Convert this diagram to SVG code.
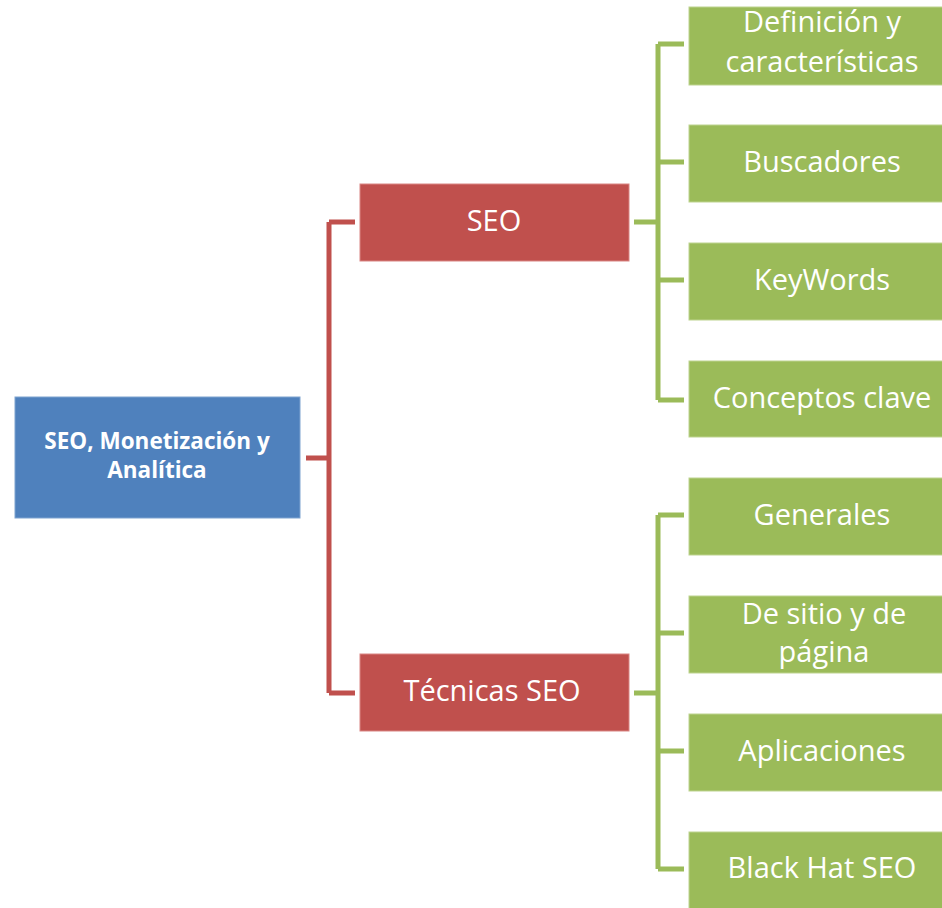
<svg xmlns="http://www.w3.org/2000/svg" width="942" height="908" viewBox="0 0 942 908">
<style>
.root{fill:#4F81BD;stroke:#7FA3D0;stroke-width:1}
.red{fill:#C0504D;stroke:#D98583;stroke-width:1}
.grn{fill:#9BBB59;stroke:#BDD38F;stroke-width:1}
text{font-family:"Open Sans","Liberation Sans",sans-serif;fill:#fff;text-anchor:middle}
.t{font-size:29px}
.b{font-size:22.5px;font-weight:bold}
.cr{fill:none;stroke:#C0504D;stroke-width:5}
.cg{fill:none;stroke:#9BBB59;stroke-width:5}
</style>
<rect width="942" height="908" fill="#fff"/>
<g id="connectors">
<path class="cr" d="M306 458H329M329 222V693M329 222H355M329 693H355"/>
<path class="cg" d="M634 222H658M658 44V400M658 44H684M658 162H684M658 280H684M658 400H684"/>
<path class="cg" d="M634 693H658M658 515V869M658 515H684M658 633H684M658 751H684M658 869H684"/>
</g>
<g id="root"><rect class="root" x="15" y="397" width="285" height="121"/>
<text class="b" x="157" y="449">SEO, Monetización y</text><text class="b" x="157" y="478">Analítica</text></g>
<g id="seo"><rect class="red" x="360" y="184" width="269" height="77"/><text class="t" x="494" y="231">SEO</text></g>
<g id="tecnicas"><rect class="red" x="360" y="654" width="269" height="77"/><text class="t" x="492" y="701">Técnicas SEO</text></g>
<g id="definicion"><rect class="grn" x="689" y="7" width="270" height="78"/><text class="t" x="822" y="32">Definición y</text><text class="t" x="822" y="72">características</text></g>
<g id="buscadores"><rect class="grn" x="689" y="125" width="270" height="77"/><text class="t" x="822" y="172">Buscadores</text></g>
<g id="keywords"><rect class="grn" x="689" y="243" width="270" height="77"/><text class="t" x="822" y="290">KeyWords</text></g>
<g id="conceptos"><rect class="grn" x="689" y="361" width="270" height="76"/><text class="t" x="822" y="408">Conceptos clave</text></g>
<g id="generales"><rect class="grn" x="689" y="478" width="270" height="77"/><text class="t" x="822" y="525">Generales</text></g>
<g id="sitio"><rect class="grn" x="689" y="596" width="270" height="77"/><text class="t" x="824" y="624">De sitio y de</text><text class="t" x="824" y="662">página</text></g>
<g id="aplicaciones"><rect class="grn" x="689" y="714" width="270" height="77"/><text class="t" x="822" y="761">Aplicaciones</text></g>
<g id="blackhat"><rect class="grn" x="689" y="832" width="270" height="77"/><text class="t" x="822" y="878">Black Hat SEO</text></g>
</svg>
